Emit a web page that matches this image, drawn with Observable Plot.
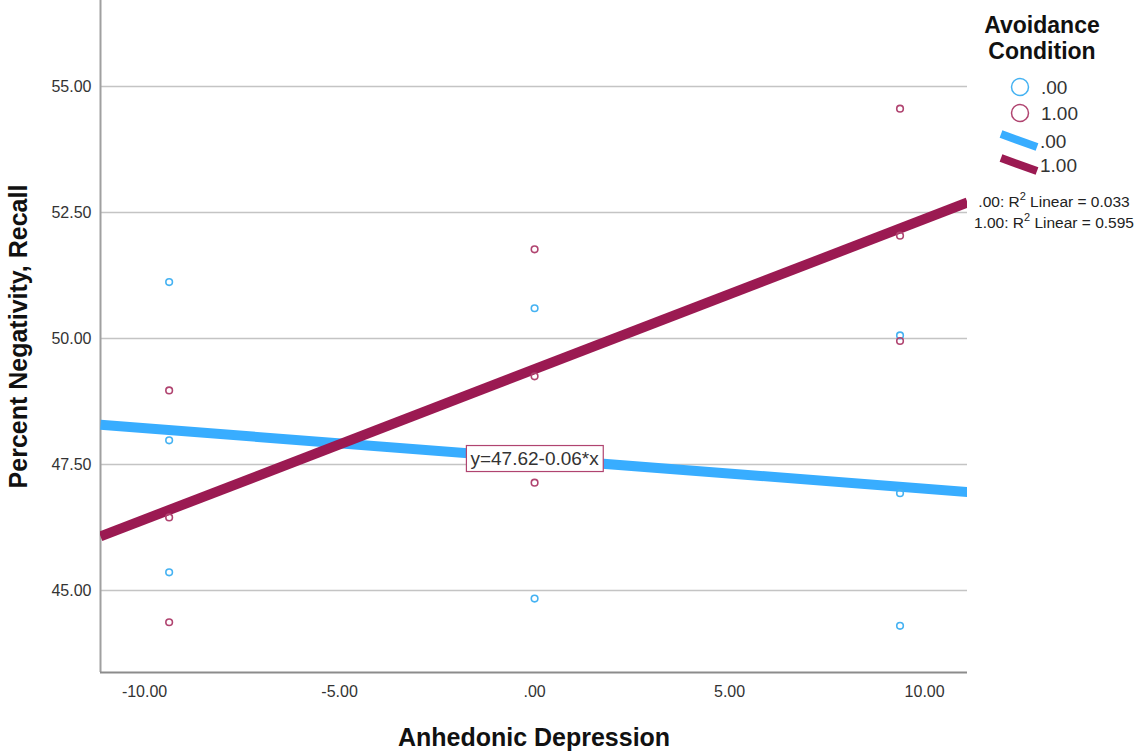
<!DOCTYPE html>
<html>
<head>
<meta charset="utf-8">
<script src="https://cdn.jsdelivr.net/npm/d3@7"></script>
<script src="https://cdn.jsdelivr.net/npm/@observablehq/plot@0.6"></script>
<style>
  html, body { margin: 0; padding: 0; background: #fff; }
  #wrap { position: relative; width: 1147px; height: 755px; font-family: "Liberation Sans", Arial, sans-serif; }
  #legend { position: absolute; left: 0; top: 0; pointer-events: none; }
</style>
</head>
<body>
<div id="wrap"></div>
<script>
// ---- data ----
const groups = [".00", "1.00"];
const colorsPoint = ["#45b2f2", "#b04470"];
const colorsLine = ["#38adff", "#9b1a52"];
const pointsG0_x = [-9.37, -9.37, -9.37, 0, 0, 9.37, 9.37, 9.37];
const pointsG0_y = [51.12, 47.98, 45.36, 50.60, 44.84, 50.06, 46.93, 44.30];
const pointsG1_x = [-9.37, -9.37, -9.37, 0, 0, 0, 9.37, 9.37, 9.37];
const pointsG1_y = [48.97, 46.45, 44.37, 51.77, 49.25, 47.14, 54.56, 52.04, 49.95];
const intercepts = [47.62, 49.39];
const slopes = [-0.06, 0.298];
const r2 = ["0.033", "0.595"];
const xDomain = [-11.13, 11.10];
const yDomain = [43.373, 56.706];
const xTicks = [-10, -5, 0, 5, 10];
const yTicks = [45, 47.5, 50, 52.5, 55];
const eqLabel = "y=47.62-0.06*x";

// ---- build tables ----
const points = [
  ...pointsG0_x.map((x, i) => ({x, y: pointsG0_y[i], g: groups[0]})),
  ...pointsG1_x.map((x, i) => ({x, y: pointsG1_y[i], g: groups[1]}))
];
const fitLines = groups.map((g, k) => xDomain.map(x => ({x, y: intercepts[k] + slopes[k] * x, g}))).flat();
const fmtX = d => d === 0 ? ".00" : d.toFixed(2);
const fmtY = d => d.toFixed(2);

const chart = Plot.plot({
  width: 1147,
  height: 755,
  marginLeft: 100,
  marginRight: 180,
  marginTop: 0,
  marginBottom: 83,
  style: {fontFamily: '"Liberation Sans", Arial, sans-serif', fontSize: "16px", color: "#333", background: "#fff"},
  x: {domain: xDomain, ticks: xTicks, tickFormat: fmtX, tickSize: 0, tickPadding: 13, label: null},
  y: {domain: yDomain, ticks: yTicks, tickFormat: fmtY, tickSize: 0, tickPadding: 9, label: null},
  color: {domain: groups, range: colorsLine},
  marks: [
    Plot.ruleY(yTicks, {stroke: "#c4c4c4", strokeWidth: 1.3}),
    Plot.ruleX([xDomain[0]], {stroke: "#a0a0a0", strokeWidth: 2}),
    Plot.ruleY([yDomain[0]], {stroke: "#8c8c8c", strokeWidth: 2}),
    Plot.line(fitLines, {x: "x", y: "y", z: "g", stroke: "g", strokeWidth: 10, strokeLinecap: "butt", clip: true}),
    Plot.dot(points, {x: "x", y: "y", r: 3.3, strokeWidth: 1.6, fill: "none",
      stroke: d => colorsPoint[groups.indexOf(d.g)]}),
    Plot.text([{x: 0, y: intercepts[0]}], {x: "x", y: "y", text: () => eqLabel,
      fontSize: 19, fill: "#333", className: "eqlabel"}),
    Plot.axisX({ticks: xTicks, tickFormat: fmtX, tickSize: 0, tickPadding: 13, fontSize: 16, fill: "#333", label: null}),
    Plot.axisY({ticks: yTicks, tickFormat: fmtY, tickSize: 0, tickPadding: 9, fontSize: 16, fill: "#333", label: null}),
    Plot.text(["Anhedonic Depression"], {frameAnchor: "bottom", dy: 73, text: d => d, fontSize: 25, fontWeight: "bold", fill: "#111"}),
    Plot.text(["Percent Negativity, Recall"], {frameAnchor: "left", textAnchor: "middle", dx: -82, dy: 0, rotate: -90, text: d => d, fontSize: 25, fontWeight: "bold", fill: "#111"})
  ]
});
document.getElementById("wrap").appendChild(chart);

// box around equation label
const eq = chart.querySelector("g.eqlabel text");
if (eq) {
  const bb = eq.getBBox();
  const ns = "http://www.w3.org/2000/svg";
  const rect = document.createElementNS(ns, "rect");
  rect.setAttribute("x", bb.x - 4);
  rect.setAttribute("y", bb.y - 2);
  rect.setAttribute("width", bb.width + 8);
  rect.setAttribute("height", bb.height + 5);
  rect.setAttribute("fill", "#fff");
  rect.setAttribute("stroke", "#b04470");
  rect.setAttribute("stroke-width", "1.2");
  const tr = eq.getAttribute("transform");
  if (tr) rect.setAttribute("transform", tr);
  eq.parentNode.insertBefore(rect, eq);
}

// ---- legend overlay ----
const lg = d3.select("#wrap").append("svg").attr("id", "legend").attr("width", 1147).attr("height", 755)
  .style("font-family", '"Liberation Sans", Arial, sans-serif');
lg.append("text").attr("x", 1042).attr("y", 33).attr("text-anchor", "middle").attr("font-size", 23)
  .attr("font-weight", "bold").attr("fill", "#111").text("Avoidance");
lg.append("text").attr("x", 1042).attr("y", 59).attr("text-anchor", "middle").attr("font-size", 23)
  .attr("font-weight", "bold").attr("fill", "#111").text("Condition");
groups.forEach((g, k) => {
  const cy = 87 + k * 26;
  lg.append("circle").attr("cx", 1020).attr("cy", cy).attr("r", 8.5).attr("fill", "none")
    .attr("stroke", colorsPoint[k]).attr("stroke-width", 1.5);
  lg.append("text").attr("x", 1041).attr("y", cy + 7).attr("font-size", 19).attr("fill", "#333").text(g);
});
groups.forEach((g, k) => {
  const y0 = 134 + k * 24;
  lg.append("line").attr("x1", 1001).attr("y1", y0).attr("x2", 1037).attr("y2", y0 + 13)
    .attr("stroke", colorsLine[k]).attr("stroke-width", 8);
  lg.append("text").attr("x", 1040).attr("y", y0 + 14).attr("font-size", 19).attr("fill", "#333").text(g);
});
groups.forEach((g, k) => {
  const t = lg.append("text").attr("x", 1054).attr("y", 207 + k * 21).attr("text-anchor", "middle")
    .attr("font-size", 15.5).attr("fill", "#222");
  t.append("tspan").text(g + ": R");
  t.append("tspan").attr("font-size", 11).attr("dy", -7).text("2");
  t.append("tspan").attr("dy", 7).text(" Linear = " + r2[k]);
});
</script>
</body>
</html>
